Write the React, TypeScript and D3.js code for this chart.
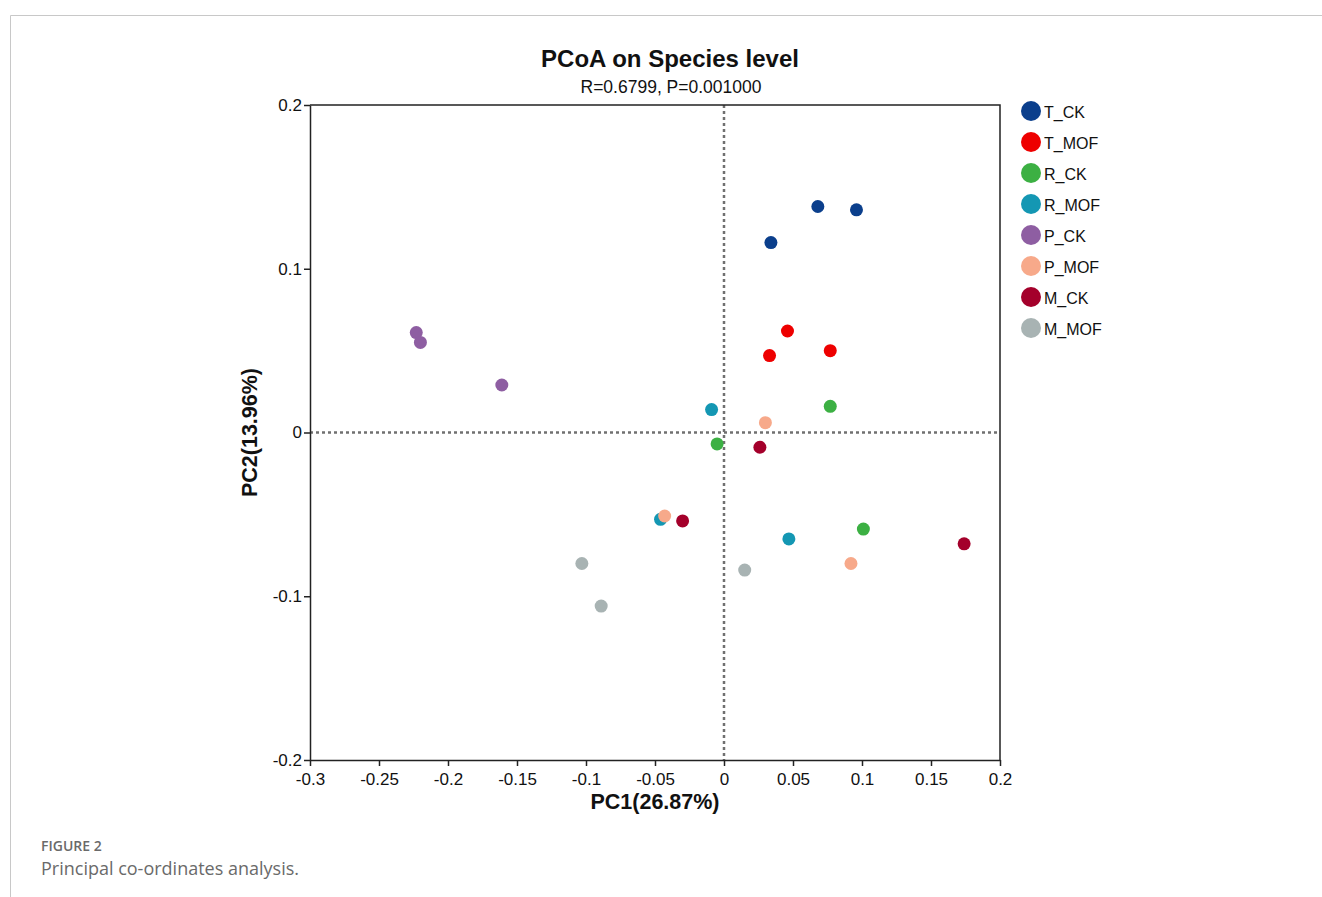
import React, { useEffect, useRef } from 'react';
import * as d3 from 'd3';

const groups = ['T_CK', 'T_MOF', 'R_CK', 'R_MOF', 'P_CK', 'P_MOF', 'M_CK', 'M_MOF'];
const groupColors = ['#0b3f8c', '#ee0000', '#3cb043', '#1497b3', '#8e5ea2', '#f7a98a', '#a4002b', '#a8b3b3'];

// PC1 / PC2 coordinates per sample
const pc1 = [
  [0.068, 0.096, 0.034],
  [0.046, 0.033, 0.077],
  [0.077, -0.005, 0.101],
  [-0.009, -0.046, 0.047],
  [-0.223, -0.22, -0.161],
  [0.03, -0.043, 0.092],
  [0.026, -0.03, 0.174],
  [-0.103, -0.089, 0.015]
];
const pc2 = [
  [0.138, 0.136, 0.116],
  [0.062, 0.047, 0.05],
  [0.016, -0.007, -0.059],
  [0.014, -0.053, -0.065],
  [0.061, 0.055, 0.029],
  [0.006, -0.051, -0.08],
  [-0.009, -0.054, -0.068],
  [-0.08, -0.106, -0.084]
];

const xTicks = [-0.3, -0.25, -0.2, -0.15, -0.1, -0.05, 0, 0.05, 0.1, 0.15, 0.2];
const yTicks = [-0.2, -0.1, 0, 0.1, 0.2];

const W = 1322;
const H = 897;

const App: React.FC = () => {
  const svgRef = useRef<SVGSVGElement>(null);

  useEffect(() => {
    if (!svgRef.current) return;
    const svg = d3.select(svgRef.current);
    svg.selectAll('*').remove();

    const font = 'Arial, "Liberation Sans", sans-serif';
    const left = 310, right = 1000, top = 105, bottom = 760;

    const x = d3.scaleLinear().domain([-0.3, 0.2]).range([left, right]);
    const y = d3.scaleLinear().domain([-0.2, 0.2]).range([bottom, top]);

    // page frame
    svg.append('path')
      .attr('d', `M10.5,${H} V15.5 H${W}`)
      .attr('fill', 'none')
      .attr('stroke', '#c8c8c8')
      .attr('stroke-width', 1);

    // titles
    svg.append('text')
      .attr('x', 670).attr('y', 67)
      .attr('text-anchor', 'middle')
      .attr('font-family', font).attr('font-size', 24).attr('font-weight', 'bold')
      .attr('fill', '#111')
      .text('PCoA on Species level');
    svg.append('text')
      .attr('x', 671).attr('y', 93)
      .attr('text-anchor', 'middle')
      .attr('font-family', font).attr('font-size', 17.5)
      .attr('fill', '#111')
      .text('R=0.6799, P=0.001000');

    // zero lines
    svg.append('line')
      .attr('x1', x(0)).attr('x2', x(0)).attr('y1', top).attr('y2', bottom)
      .attr('stroke', '#707070').attr('stroke-width', 2.5).attr('stroke-dasharray', '3,3');
    svg.append('line')
      .attr('x1', left).attr('x2', right).attr('y1', y(0)).attr('y2', y(0))
      .attr('stroke', '#707070').attr('stroke-width', 2.5).attr('stroke-dasharray', '3,3');

    // axes
    const xAxis = svg.append('g')
      .attr('transform', `translate(0,${bottom})`)
      .call(d3.axisBottom(x).tickValues(xTicks).tickSize(6).tickSizeOuter(0)
        .tickFormat(d => String(+d)));
    const yAxis = svg.append('g')
      .attr('transform', `translate(${left},0)`)
      .call(d3.axisLeft(y).tickValues(yTicks).tickSize(6).tickSizeOuter(0)
        .tickFormat(d => String(+d)));
    [xAxis, yAxis].forEach(ax => {
      ax.select('.domain').attr('stroke', '#222').attr('stroke-width', 1.5);
      ax.selectAll('.tick line').attr('stroke', '#222').attr('stroke-width', 1.5);
      ax.selectAll('.tick text')
        .attr('font-family', font).attr('font-size', 17).attr('fill', '#111');
    });
    xAxis.selectAll('.tick text').attr('dy', '0.95em');
    yAxis.selectAll('.tick text').attr('x', -8);

    // box top/right
    svg.append('path')
      .attr('d', `M${left},${top} H${right} V${bottom}`)
      .attr('fill', 'none').attr('stroke', '#222').attr('stroke-width', 1.5);

    // axis titles
    svg.append('text')
      .attr('x', (left + right) / 2).attr('y', 809)
      .attr('text-anchor', 'middle')
      .attr('font-family', font).attr('font-size', 21.5).attr('font-weight', 'bold')
      .attr('fill', '#111')
      .text('PC1(26.87%)');
    svg.append('text')
      .attr('transform', `translate(257,${(top + bottom) / 2}) rotate(-90)`)
      .attr('text-anchor', 'middle')
      .attr('font-family', font).attr('font-size', 21.5).attr('font-weight', 'bold')
      .attr('fill', '#111')
      .text('PC2(13.96%)');

    // points
    groups.forEach((g, i) => {
      pc1[i].forEach((v, j) => {
        svg.append('circle')
          .attr('cx', x(v)).attr('cy', y(pc2[i][j]))
          .attr('r', 6.5)
          .attr('fill', groupColors[i]);
      });
    });

    // legend
    const legend = svg.append('g').attr('transform', 'translate(1031,111)');
    groups.forEach((g, i) => {
      const row = legend.append('g').attr('transform', `translate(0,${i * 31})`);
      row.append('circle').attr('r', 10).attr('fill', groupColors[i]);
      row.append('text')
        .attr('x', 13).attr('y', 1).attr('dy', '0.35em')
        .attr('font-family', font).attr('font-size', 16).attr('fill', '#111')
        .text(g);
    });

    // caption
    svg.append('text')
      .attr('x', 41).attr('y', 851)
      .attr('font-family', '"Open Sans", Lato, sans-serif').attr('font-size', 14).attr('font-weight', 600)
      .attr('fill', '#6a6a6a')
      .text('FIGURE 2');
    svg.append('text')
      .attr('x', 41).attr('y', 875)
      .attr('font-family', '"Open Sans", Lato, sans-serif').attr('font-size', 18)
      .attr('fill', '#6a6a6a')
      .text('Principal co-ordinates analysis.');
  }, []);

  return (
    <div style={{ position: 'absolute', left: 0, top: 0, width: W, height: H, background: '#fff' }}>
      <svg ref={svgRef} width={W} height={H} />
    </div>
  );
};

export default App;
